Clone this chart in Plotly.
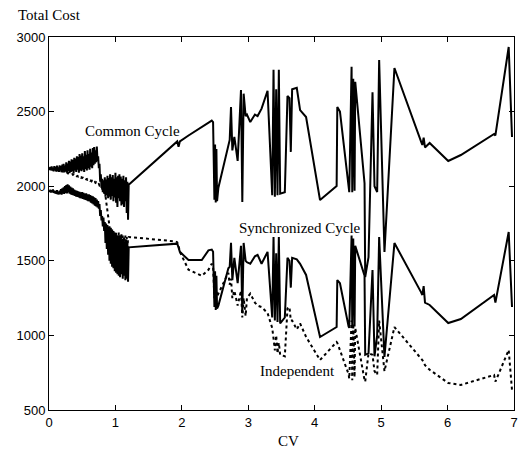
import plotly.graph_objects as go

# Shared CV values (x)
cv = [0.00, 0.01, 0.02, 0.03, 0.04, 0.05, 0.06, 0.07, 0.08, 0.09,
      0.10, 0.11, 0.12, 0.13, 0.14, 0.15, 0.16, 0.17, 0.18, 0.19,
      0.20, 0.21, 0.22, 0.23, 0.24, 0.25, 0.26, 0.27, 0.28, 0.29,
      0.30, 0.31, 0.32, 0.33, 0.34, 0.35, 0.36, 0.37, 0.38, 0.39,
      0.40, 0.41, 0.42, 0.43, 0.44, 0.45, 0.46, 0.47, 0.48, 0.49,
      0.50, 0.51, 0.52, 0.53, 0.54, 0.55, 0.56, 0.57, 0.58, 0.59,
      0.60, 0.61, 0.62, 0.63, 0.64, 0.65, 0.66, 0.67, 0.68, 0.69,
      0.70, 0.71, 0.72, 0.73, 0.74, 0.75, 0.76, 0.77, 0.78, 0.79,
      0.80, 0.81, 0.82, 0.83, 0.84, 0.85, 0.86, 0.87, 0.88, 0.89,
      0.90, 0.91, 0.92, 0.93, 0.94, 0.95, 0.96, 0.97, 0.98, 0.99,
      1.00, 1.01, 1.02, 1.03, 1.04, 1.05, 1.06, 1.07, 1.08, 1.09,
      1.10, 1.11, 1.12, 1.13, 1.14, 1.15, 1.16, 1.17, 1.18, 1.19,
      1.20, 1.90, 1.93, 1.95, 1.97, 2.10, 2.30, 2.40, 2.45, 2.47,
      2.49, 2.50, 2.51, 2.52, 2.53, 2.55, 2.70, 2.72, 2.74, 2.76,
      2.79, 2.84, 2.89, 2.91, 2.93, 2.96, 2.98, 3.03, 3.10, 3.14,
      3.20, 3.29, 3.36, 3.38, 3.40, 3.42, 3.44, 3.46, 3.48, 3.55,
      3.59, 3.62, 3.64, 3.66, 3.73, 3.78, 3.87, 4.08, 4.33, 4.34,
      4.38, 4.51, 4.52, 4.555, 4.565, 4.58, 4.60, 4.61, 4.75, 4.76,
      4.81, 4.87, 4.90, 4.94, 4.97, 5.05, 5.20, 5.60, 5.62, 5.64,
      5.66, 5.73, 6.01, 6.20, 6.70, 6.72, 6.92, 6.97]

common_cycle = [2120, 2110, 2128, 2106, 2132, 2104, 2125, 2100, 2135, 2108,
                2130, 2098, 2138, 2102, 2126, 2096, 2140, 2104, 2134, 2095,
                2145, 2100, 2150, 2092, 2138, 2098, 2160, 2090, 2152, 2100,
                2170, 2088, 2165, 2095, 2180, 2100, 2175, 2085, 2190, 2105,
                2185, 2095, 2200, 2110, 2195, 2090, 2215, 2105, 2205, 2100,
                2220, 2110, 2200, 2095, 2235, 2115, 2210, 2105, 2240, 2120,
                2215, 2110, 2250, 2130, 2225, 2120, 2255, 2140, 2262, 2150,
                2240, 2160, 2265, 2170, 2200, 2120, 2150, 2030, 2080, 1990,
                2050, 1960, 2040, 1950, 2060, 1930, 2045, 1940, 2070, 1920,
                2055, 1930, 2080, 1910, 2060, 1935, 2075, 1900, 2050, 1925,
                2090, 1890, 2060, 1860, 2070, 1920, 2080, 1900, 2065, 1870,
                2050, 1880, 2070, 1860, 2040, 1900, 2060, 1820, 2030, 1775,
                2010, 2290, 2300, 2265, 2300, 2340, 2400, 2430, 2440, 2430,
                1910, 2280, 1890, 2250, 1900, 1990, 2290, 2310, 2530, 2240,
                2330, 2170, 2645, 1894, 2620, 2470, 2480, 2430, 2480, 2470,
                2520, 2640, 1940, 2780, 1930, 2650, 1940, 2780, 1950, 1960,
                2605, 2590, 2230, 2650, 2660, 2510, 2464, 1907, 2001, 2530,
                2500, 1974, 1960, 2800, 1960, 2720, 1970, 2700, 2020, 1391,
                1525, 2630, 2000, 1961, 2846, 1559, 2792, 2300, 2276, 2325,
                2260, 2290, 2169, 2209, 2350, 2340, 2933, 2330]

synchronized_cycle = [1970, 1962, 1976, 1958, 1972, 1960, 1978, 1955, 1970, 1952,
                      1968, 1950, 1974, 1946, 1962, 1945, 1970, 1948, 1980, 1944,
                      1985, 1950, 1992, 1948, 2000, 1955, 2008, 1952, 2012, 1958,
                      2005, 1950, 1998, 1945, 1990, 1942, 1985, 1938, 1978, 1935,
                      1972, 1930, 1968, 1928, 1965, 1925, 1962, 1920, 1958, 1918,
                      1960, 1915, 1955, 1912, 1950, 1908, 1952, 1905, 1946, 1900,
                      1945, 1898, 1940, 1890, 1935, 1885, 1932, 1878, 1925, 1870,
                      1920, 1865, 1910, 1858, 1900, 1850, 1880, 1800, 1840, 1770,
                      1800, 1730, 1790, 1700, 1760, 1620, 1750, 1580, 1740, 1540,
                      1730, 1500, 1720, 1480, 1710, 1460, 1700, 1450, 1690, 1430,
                      1680, 1420, 1670, 1410, 1660, 1400, 1660, 1390, 1650, 1410,
                      1640, 1380, 1650, 1400, 1630, 1370, 1640, 1380, 1620, 1360,
                      1590, 1615, 1615, 1590, 1560, 1505, 1505, 1570, 1575, 1560,
                      1190, 1430, 1170, 1400, 1180, 1200, 1450, 1460, 1620, 1370,
                      1520, 1350, 1600, 1150, 1620, 1500, 1490, 1480, 1530, 1540,
                      1480, 1560, 1120, 1660, 1100, 1550, 1090, 1660, 1080, 1120,
                      1520, 1500, 1320, 1520, 1510, 1480, 1405, 989, 1056, 1371,
                      1350, 1060, 1050, 1670, 1050, 1650, 1060, 1600, 1400, 870,
                      880, 1438, 860, 1000, 1660, 855, 1619, 1290, 1271, 1330,
                      1220, 1204, 1083, 1110, 1271, 1220, 1693, 1190]

independent = [2120, 2119, 2117, 2118, 2115, 2116, 2113, 2114, 2111, 2112,
               2109, 2110, 2107, 2108, 2104, 2106, 2102, 2103, 2100, 2101,
               2098, 2099, 2095, 2097, 2092, 2094, 2090, 2091, 2087, 2089,
               2085, 2086, 2082, 2084, 2079, 2081, 2076, 2078, 2073, 2075,
               2070, 2072, 2067, 2069, 2064, 2066, 2061, 2063, 2058, 2060,
               2055, 2057, 2052, 2054, 2049, 2051, 2046, 2048, 2043, 2045,
               2040, 2042, 2037, 2039, 2033, 2036, 2030, 2032, 2026, 2029,
               2022, 2025, 2018, 2020, 2012, 2015, 2005, 2008, 1995, 1998,
               1985, 1988, 1975, 1970, 1955, 1940, 1900, 1870, 1830, 1790,
               1760, 1730, 1700, 1720, 1680, 1710, 1660, 1700, 1640, 1690,
               1620, 1690, 1600, 1680, 1590, 1690, 1580, 1675, 1570, 1680,
               1565, 1670, 1560, 1665, 1555, 1670, 1550, 1660, 1560, 1655,
               1660, 1630, 1625, 1600, 1560, 1440, 1400, 1440, 1480, 1460,
               1250, 1380, 1230, 1300, 1260, 1280, 1420, 1340, 1380, 1250,
               1300, 1200, 1300, 1120, 1250, 1130, 1250, 1280, 1220, 1200,
               1190, 1150, 1050, 980, 900, 1000, 880, 950, 870, 860,
               1180, 1190, 1100, 1100, 1040, 1080, 990, 835, 956, 950,
               900, 740, 710, 1100, 700, 1080, 720, 1050, 700, 690,
               880, 870, 760, 735, 1100, 760, 1056, 850, 835, 820,
               800, 770, 681, 668, 735, 690, 902, 634]

x_ticks = [0, 1, 2, 3, 4, 5, 6, 7]
y_ticks = [500, 1000, 1500, 2000, 2500, 3000]

fig = go.Figure()
fig.add_trace(go.Scatter(x=cv, y=common_cycle, mode="lines", name="Common Cycle",
                         line=dict(color="black", width=2)))
fig.add_trace(go.Scatter(x=cv, y=synchronized_cycle, mode="lines", name="Synchronized Cycle",
                         line=dict(color="black", width=2)))
fig.add_trace(go.Scatter(x=cv, y=independent, mode="lines", name="Independent",
                         line=dict(color="black", width=2, dash="dot")))

serif = "Liberation Serif"
sans = "Liberation Sans"

annots = [
    dict(x=1.26, y=2370, xref="x", yref="y", text="Common Cycle", showarrow=False,
         font=dict(family=serif, size=15, color="black")),
    dict(x=3.78, y=1723, xref="x", yref="y", text="Synchronized Cycle", showarrow=False,
         font=dict(family=serif, size=15, color="black")),
    dict(x=3.74, y=761, xref="x", yref="y", text="Independent", showarrow=False,
         font=dict(family=serif, size=15, color="black")),
    dict(x=-0.072, y=1.059, xref="paper", yref="paper", text="Total Cost", showarrow=False,
         xanchor="left", yanchor="middle", font=dict(family=serif, size=15, color="black")),
    dict(x=0.515, y=-0.083, xref="paper", yref="paper", text="CV", showarrow=False,
         xanchor="center", yanchor="middle", font=dict(family=serif, size=15, color="black")),
]

fig.update_layout(
    width=525, height=452,
    margin=dict(l=49, r=7, t=37, b=42),
    paper_bgcolor="white", plot_bgcolor="white",
    font=dict(family=sans, size=13, color="black"),
    showlegend=False,
    annotations=annots,
    xaxis=dict(range=[0, 7], tickvals=x_ticks, ticks="inside", ticklen=5, tickcolor="black",
               showline=True, linecolor="black", linewidth=1, mirror="ticks",
               showgrid=False, zeroline=False,
               tickfont=dict(family=sans, size=13, color="black")),
    yaxis=dict(range=[500, 3000], tickvals=y_ticks, ticks="inside", ticklen=5, tickcolor="black",
               showline=True, linecolor="black", linewidth=1, mirror="ticks",
               showgrid=False, zeroline=False,
               tickfont=dict(family=sans, size=13, color="black")),
)

fig.write_html("out.html")
